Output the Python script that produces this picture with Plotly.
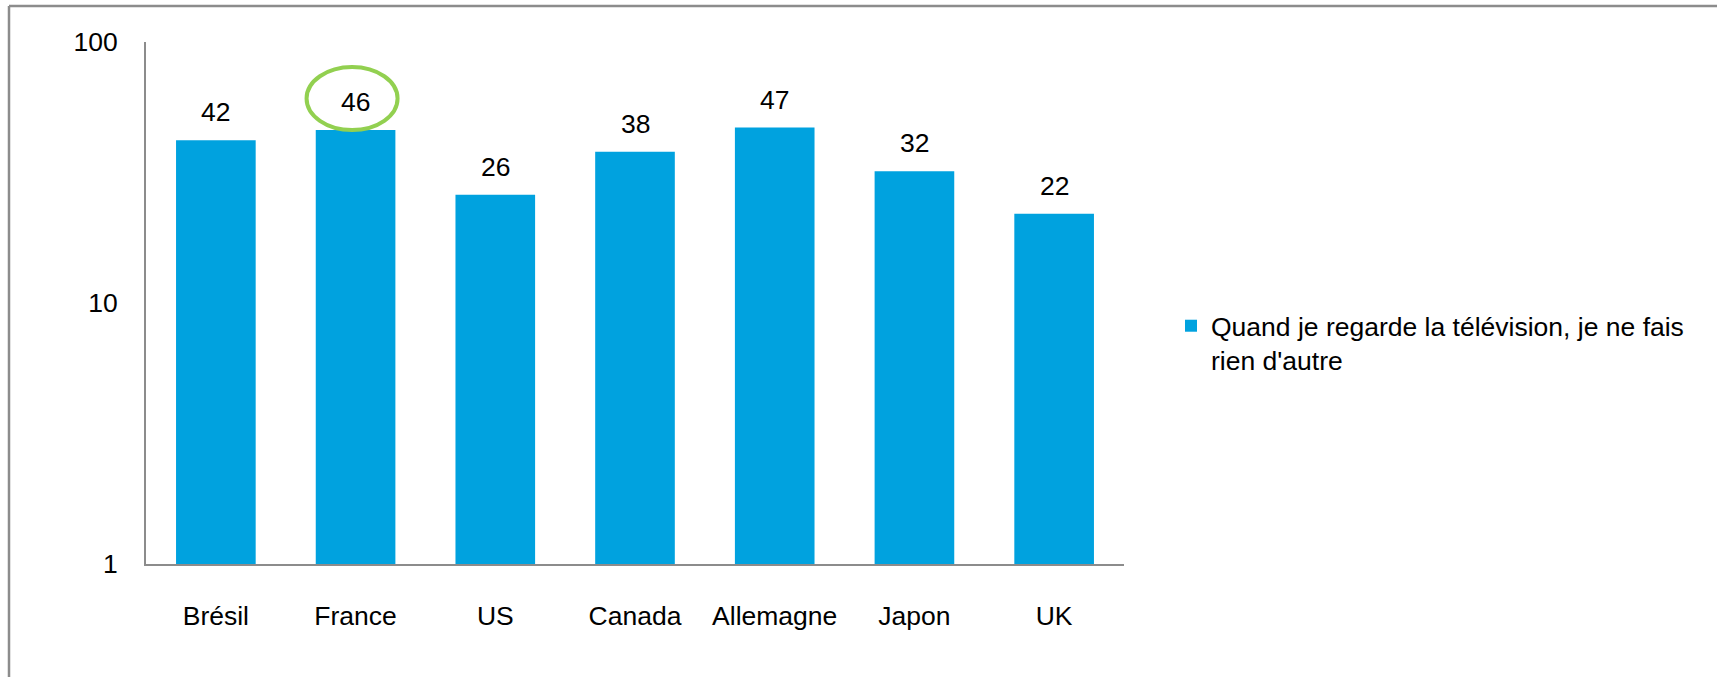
import math
import plotly.graph_objects as go

categories = ["Brésil", "France", "US", "Canada", "Allemagne", "Japon", "UK"]
values = [42, 46, 26, 38, 47, 32, 22]
series_name = "Quand je regarde la télévision, je ne fais<br>rien d'autre"
y_tick_values = [1, 10, 100]
y_tick_labels = ["1", "10", "100"]
highlight = "France"

W, H = 1717, 677
ML, MR, MT, MB = 146, 593, 42, 113
PW, PH = W - ML - MR, H - MT - MB

FONT = "Liberation Sans, Arial, sans-serif"
FS = 26.5
BAR = "#00A2DF"
AXIS = "#8C8C8C"

fig = go.Figure()
fig.add_trace(go.Bar(
    x=categories, y=values, name=series_name,
    marker=dict(color=BAR, line=dict(width=0)),
    showlegend=True,
))

for c, v in zip(categories, values):
    fig.add_annotation(
        x=c, y=math.log10(v), xref="x", yref="y",
        text=str(v), showarrow=False, yanchor="bottom", yshift=11,
        font=dict(family=FONT, size=FS, color="#000000"),
    )

# highlight ellipse around France label
hv = values[categories.index(highlight)]
fig.add_shape(
    type="circle", xref="x", yref="y",
    xsizemode="pixel", ysizemode="pixel",
    xanchor=highlight, yanchor=hv,
    x0=-49, x1=42, y0=-4, y1=63,
    line=dict(color="#92D050", width=4), fillcolor="rgba(0,0,0,0)",
)

# outer frame (top and left edges)
fig.add_shape(type="line", xref="paper", yref="paper",
              x0=(9 - ML) / PW, x1=(W + 5 - ML) / PW,
              y0=(H - MB - 6) / PH, y1=(H - MB - 6) / PH,
              line=dict(color="#8C8C8C", width=2.5))
fig.add_shape(type="line", xref="paper", yref="paper",
              x0=(9 - ML) / PW, x1=(9 - ML) / PW,
              y0=(H - MB - 6) / PH, y1=(-MB - 5) / PH,
              line=dict(color="#8C8C8C", width=2.5))

fig.update_layout(
    width=W, height=H,
    margin=dict(l=ML, r=MR, t=MT, b=MB, pad=0),
    paper_bgcolor="white", plot_bgcolor="white",
    bargap=0.43,
    font=dict(family=FONT, size=FS, color="#000000"),
    legend=dict(
        x=(1171 - ML) / PW, y=(H - MB - 302) / PH,
        xanchor="left", yanchor="top",
        font=dict(family=FONT, size=FS, color="#000000"),
        valign="top", itemwidth=30, tracegroupgap=0,
        bgcolor="rgba(0,0,0,0)",
    ),
    xaxis=dict(
        showgrid=False, zeroline=False,
        showline=True, linecolor=AXIS, linewidth=2,
        ticks="", ticklabelstandoff=27,
        tickfont=dict(family=FONT, size=FS, color="#000000"),
        fixedrange=True,
    ),
    yaxis=dict(
        type="log", range=[0, 2],
        showgrid=False, zeroline=False,
        showline=True, linecolor=AXIS, linewidth=2,
        ticks="", ticklabelstandoff=21,
        tickmode="array", tickvals=y_tick_values, ticktext=y_tick_labels,
        tickfont=dict(family=FONT, size=FS, color="#000000"),
        fixedrange=True,
    ),
)

fig.write_html("out.html", config={"displayModeBar": False})
